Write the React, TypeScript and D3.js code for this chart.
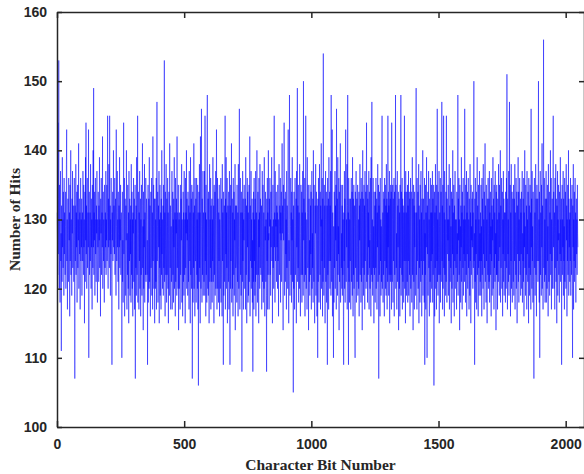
import { useEffect, useRef } from 'react';
import * as d3 from 'd3';

// Number of hits per character bit (bit 1..2048)
const HITS: number[] = [
  131,127,122,144,125,133,153,129,120,135,126,118,130,137,124,128,111,132,127,121,139,126,130,123,134,128,119,136,125,131,127,122,
  129,134,120,126,138,143,124,130,117,128,133,125,121,136,129,127,131,116,135,124,128,140,122,130,126,119,133,128,137,123,129,132,
  125,121,130,136,127,107,132,124,129,138,122,131,126,134,118,128,135,123,130,127,141,120,129,133,125,131,117,128,136,124,130,126,
  133,119,127,131,124,137,129,122,135,126,130,115,128,134,121,139,127,144,125,132,120,130,136,123,128,131,126,143,110,129,134,122,
  127,131,124,138,129,120,133,126,130,117,135,128,123,140,126,149,122,131,127,134,119,129,136,125,130,121,132,128,137,124,118,130,
  126,134,129,121,132,127,139,123,130,125,116,133,128,136,122,129,131,126,142,120,128,134,124,130,127,118,135,129,123,131,126,137,
  122,130,127,135,124,131,145,128,120,133,126,138,129,123,145,127,132,119,130,125,136,128,121,109,131,127,134,124,129,140,126,132,
  130,125,136,122,128,133,127,119,143,129,124,131,137,126,130,121,134,128,117,132,126,139,123,130,127,135,122,129,131,125,110,128,
  134,121,127,118,131,144,125,130,136,116,129,133,122,119,132,127,140,124,117,128,122,135,129,120,131,115,137,128,124,133,119,130,
  125,132,118,138,122,127,134,120,130,116,131,128,136,121,129,133,117,127,135,107,130,123,132,119,139,128,122,131,145,118,126,134,
  128,117,131,124,137,120,127,133,116,130,122,135,128,119,132,141,123,129,114,134,120,130,126,138,118,131,128,122,136,121,126,133,
  131,122,127,109,130,135,118,124,133,120,139,121,129,132,116,128,134,123,125,136,119,126,131,117,142,124,129,135,120,128,133,115,
  127,133,120,130,121,136,117,131,147,124,129,134,118,122,132,126,137,115,130,123,135,119,129,131,117,133,122,140,125,130,120,124,
  132,119,135,123,129,153,121,131,116,134,127,122,138,124,118,133,122,129,136,120,131,115,128,134,125,119,141,127,123,132,117,126,
  129,121,131,137,117,128,134,122,130,118,133,126,139,120,124,131,116,136,121,130,128,133,119,142,123,126,131,120,135,114,124,130,
  120,131,128,117,135,122,129,133,127,138,118,130,124,116,128,134,121,131,119,137,125,122,130,115,136,123,131,128,140,120,133,127,
  130,119,134,125,121,132,117,137,128,124,131,115,139,122,127,133,120,135,130,107,128,134,118,131,123,141,120,129,132,116,136,124,
  124,133,118,126,136,122,130,120,135,117,131,106,127,134,121,138,123,131,115,142,128,120,125,146,129,118,133,122,130,137,119,131,
  128,121,126,137,119,145,124,131,116,135,122,130,118,140,148,126,120,133,119,134,127,115,125,138,121,130,123,136,117,132,126,121,
  133,118,130,124,139,121,126,132,115,135,122,127,134,119,130,137,120,125,143,131,117,122,136,120,133,126,118,131,124,135,116,130,
  127,120,125,136,118,122,133,128,116,138,124,131,121,109,134,119,126,132,121,130,145,117,133,125,139,120,131,123,136,115,126,132,
  130,121,134,117,123,137,125,109,132,120,135,124,130,141,118,126,133,120,131,116,136,125,122,134,119,130,127,138,114,132,123,124,
  125,132,118,135,122,121,131,116,138,126,120,129,146,124,117,128,136,122,131,119,134,128,108,131,121,137,124,133,117,130,127,135,
  131,120,124,133,117,139,130,122,132,115,122,136,126,134,118,131,119,128,135,121,130,142,116,132,124,126,137,120,130,123,133,118,
  127,108,131,121,134,117,136,124,130,119,133,121,137,116,126,131,122,140,125,118,127,134,122,130,115,136,126,131,120,138,123,133,
  130,122,127,132,117,129,137,121,123,135,118,126,131,120,139,124,116,129,127,134,121,130,119,108,133,124,136,117,131,122,140,127,
  128,117,133,129,136,122,130,119,134,126,131,139,124,129,115,128,135,123,130,120,133,145,126,131,118,137,124,130,129,134,121,132,
  126,131,120,135,124,130,116,127,138,129,122,132,128,136,118,131,127,134,121,126,141,128,132,124,114,135,127,131,144,125,119,133,
  131,121,134,125,130,117,137,123,132,129,120,135,143,128,115,127,124,148,130,119,126,129,136,122,131,118,134,127,139,121,130,125,
  105,132,120,134,127,117,125,136,129,122,124,133,115,137,126,130,149,121,132,123,135,118,128,131,120,138,130,124,116,128,135,122,
  129,134,118,131,122,137,124,119,150,127,133,121,125,136,116,131,122,145,129,120,127,130,117,139,131,123,124,135,114,127,133,121,
  127,119,135,122,132,125,134,117,126,137,120,128,123,133,118,140,127,121,135,126,115,124,132,128,138,119,127,134,125,116,132,122,
  110,133,121,136,127,118,125,138,130,122,134,117,132,129,141,120,130,124,136,116,133,121,154,127,119,126,135,123,132,115,130,137,
  121,127,134,118,125,132,109,136,122,128,133,117,139,124,126,134,120,132,124,137,119,148,130,121,135,143,116,131,127,122,110,129,
  118,134,123,126,137,120,132,127,135,117,146,124,128,133,119,139,122,129,125,136,114,134,121,127,132,141,118,126,135,123,128,120,
  132,119,135,122,130,116,109,131,124,137,120,133,118,131,143,127,121,130,126,138,117,132,148,123,131,109,136,121,133,118,130,125,
  124,133,117,131,136,121,130,134,119,139,126,116,133,122,135,120,129,132,115,110,134,123,131,137,118,130,133,121,126,135,119,128,
  130,120,134,116,132,127,138,122,128,133,118,136,121,129,134,114,131,140,123,133,119,130,135,122,132,117,137,124,128,134,120,131,
  144,121,127,135,118,133,122,131,126,137,117,134,123,127,120,136,128,116,139,122,134,147,121,130,119,128,136,123,129,115,134,122,
  127,132,118,134,123,136,120,127,133,117,131,126,138,121,128,135,107,132,122,134,127,116,136,124,130,119,129,121,135,145,120,128,
  131,118,134,122,127,133,116,136,124,128,135,120,132,119,138,123,133,117,131,121,145,126,134,119,132,122,137,115,128,133,121,135,
  122,134,117,144,128,121,130,135,118,133,124,131,136,116,134,122,127,132,148,120,135,123,128,117,130,137,121,132,126,134,114,128,
  133,120,131,116,135,123,132,148,119,134,126,122,136,117,133,121,132,128,118,131,124,145,120,134,128,115,137,124,131,119,134,126,
  121,135,118,132,124,137,119,131,134,122,133,116,127,136,120,129,134,123,118,130,139,122,133,114,128,135,121,132,117,134,126,131,
  126,119,133,149,122,131,117,136,124,129,134,120,127,138,115,132,123,130,118,135,126,121,137,124,131,116,133,128,122,140,119,130,
  133,124,130,118,136,109,128,122,135,117,131,126,139,121,110,132,125,134,119,128,137,123,130,116,133,127,121,136,118,131,124,135,
  120,131,125,137,118,133,122,129,135,106,127,134,116,131,123,138,120,128,132,117,135,124,146,121,130,119,134,126,122,137,115,129,
  131,122,136,118,129,134,121,127,147,124,132,117,135,120,128,145,123,131,116,137,122,130,126,119,134,121,145,128,118,133,125,130,
  127,135,119,130,124,138,117,132,126,121,136,123,129,115,134,128,120,133,125,140,118,131,122,135,127,116,132,124,137,120,130,126,
  123,130,117,134,125,128,121,148,119,133,127,136,122,130,114,135,124,129,118,132,126,139,121,131,117,134,128,123,136,119,130,125,
  132,121,146,124,130,118,135,127,122,137,116,131,125,134,120,128,136,123,130,117,133,126,119,138,124,131,115,135,122,129,127,133,
  126,134,120,131,123,137,150,124,128,109,133,121,136,118,130,125,134,117,129,139,122,132,126,116,135,123,130,119,137,124,128,121,
  131,119,135,124,129,116,136,122,133,127,120,138,125,130,117,134,123,128,141,121,132,126,118,135,124,130,115,133,127,122,136,120,
  128,133,121,137,118,131,125,134,122,129,116,136,124,132,119,130,127,139,120,133,126,117,135,123,131,121,137,125,128,114,134,122,
  135,122,130,117,133,127,121,138,124,131,119,135,126,128,140,118,132,123,129,136,120,127,134,116,130,125,137,121,133,119,128,131,
  124,131,118,134,126,120,136,123,151,129,117,133,125,130,121,137,119,132,147,122,128,135,116,131,124,138,120,129,134,118,127,133,
  130,121,135,119,127,133,124,138,117,131,126,122,136,120,129,134,115,132,125,128,139,121,134,118,130,124,136,127,122,133,119,131,
  125,134,120,130,137,118,128,124,133,121,136,116,131,126,140,123,129,119,135,127,122,132,117,137,125,130,121,134,128,115,136,123,
  132,119,128,135,122,131,117,146,126,133,120,137,124,129,118,134,127,121,107,130,136,123,131,119,128,138,122,133,116,129,135,124,
  127,133,121,136,150,124,130,118,134,110,128,137,122,131,125,119,135,126,141,120,132,127,117,134,156,123,129,136,121,130,118,133,
  122,130,137,118,133,126,120,135,124,129,116,138,127,121,132,134,119,131,125,140,122,128,136,117,130,124,133,120,129,135,145,126,
  134,120,128,131,117,136,123,129,138,121,133,126,115,132,124,137,119,130,127,135,122,128,118,134,131,125,139,121,130,124,133,109,
  128,135,122,130,126,137,119,133,124,129,117,136,121,131,134,125,120,138,127,132,116,130,124,135,122,128,140,119,133,126,130,121,
  131,124,136,119,129,133,122,127,135,120,110,132,126,138,117,130,124,134,121,128,136,123,131,118,127,133,125,130,122,135,128,126,
];

const X_TICKS = [0, 500, 1000, 1500, 2000];
const Y_TICKS = [100, 110, 120, 130, 140, 150, 160];
const X_LABEL = 'Character Bit Number';
const Y_LABEL = 'Number of Hits';

const W = 584;
const H = 474;
const M = { top: 12, right: 0, bottom: 47, left: 57 };
const AXIS = '#262626';
const TICK_FONT = '"Liberation Sans", Arial, sans-serif';
const TITLE_FONT = '"Liberation Serif", "Times New Roman", serif';

export default function App() {
  const svgRef = useRef<SVGSVGElement>(null);

  useEffect(() => {
    const svg = d3.select(svgRef.current);
    svg.selectAll('*').remove();

    const x = d3.scaleLinear().domain([0, 2072]).range([M.left, W - M.right]);
    const y = d3.scaleLinear().domain([100, 160]).range([H - M.bottom, M.top]);

    // trace
    const line = d3.line<number>()
      .x((_, i) => x(i + 1))
      .y(d => y(d));

    svg.append('path')
      .datum(HITS)
      .attr('fill', 'none')
      .attr('stroke', '#0000ff')
      .attr('stroke-width', 0.5)
      .attr('d', line);

    // axes: ticks point inwards, on all four sides (MATLAB box)
    const fmt = d3.format('d');
    const bottom = svg.append('g')
      .attr('transform', `translate(0,${y(100)})`)
      .call(d3.axisBottom(x).tickValues(X_TICKS).tickFormat(fmt).tickSizeInner(-6).tickSizeOuter(0).tickPadding(12));
    const top = svg.append('g')
      .attr('transform', `translate(0,${y(160)})`)
      .call(d3.axisTop(x).tickValues(X_TICKS).tickSizeInner(-6).tickSizeOuter(0));
    top.selectAll('text').remove();
    const left = svg.append('g')
      .attr('transform', `translate(${x(0)},0)`)
      .call(d3.axisLeft(y).tickValues(Y_TICKS).tickFormat(fmt).tickSizeInner(-5).tickSizeOuter(0).tickPadding(10));
    const right = svg.append('g')
      .attr('transform', `translate(${x(2072)},0)`)
      .call(d3.axisRight(y).tickValues(Y_TICKS).tickSizeInner(-5).tickSizeOuter(0));
    right.selectAll('text').remove();

    [bottom, top, left, right].forEach(g => {
      g.select('.domain').attr('stroke', AXIS).attr('stroke-width', 1.5);
      g.selectAll('.tick line').attr('stroke', AXIS).attr('stroke-width', 1.5);
      g.selectAll('text')
        .attr('fill', AXIS)
        .attr('font-family', TICK_FONT)
        .attr('font-weight', 700)
        .attr('font-size', 14);
    });

    // titles
    svg.append('text')
      .attr('x', (x(0) + x(2072)) / 2)
      .attr('y', H - 4)
      .attr('text-anchor', 'middle')
      .attr('font-family', TITLE_FONT)
      .attr('font-weight', 700)
      .attr('font-size', 15.5)
      .attr('fill', AXIS)
      .text(X_LABEL);

    svg.append('text')
      .attr('transform', `translate(20,${(y(100) + y(160)) / 2}) rotate(-90)`)
      .attr('text-anchor', 'middle')
      .attr('font-family', TITLE_FONT)
      .attr('font-weight', 700)
      .attr('font-size', 15.5)
      .attr('fill', AXIS)
      .text(Y_LABEL);
  }, []);

  return (
    <svg
      ref={svgRef}
      width={W}
      height={H}
      style={{ position: 'absolute', left: 0, top: 0, background: '#fff', display: 'block' }}
    />
  );
}
